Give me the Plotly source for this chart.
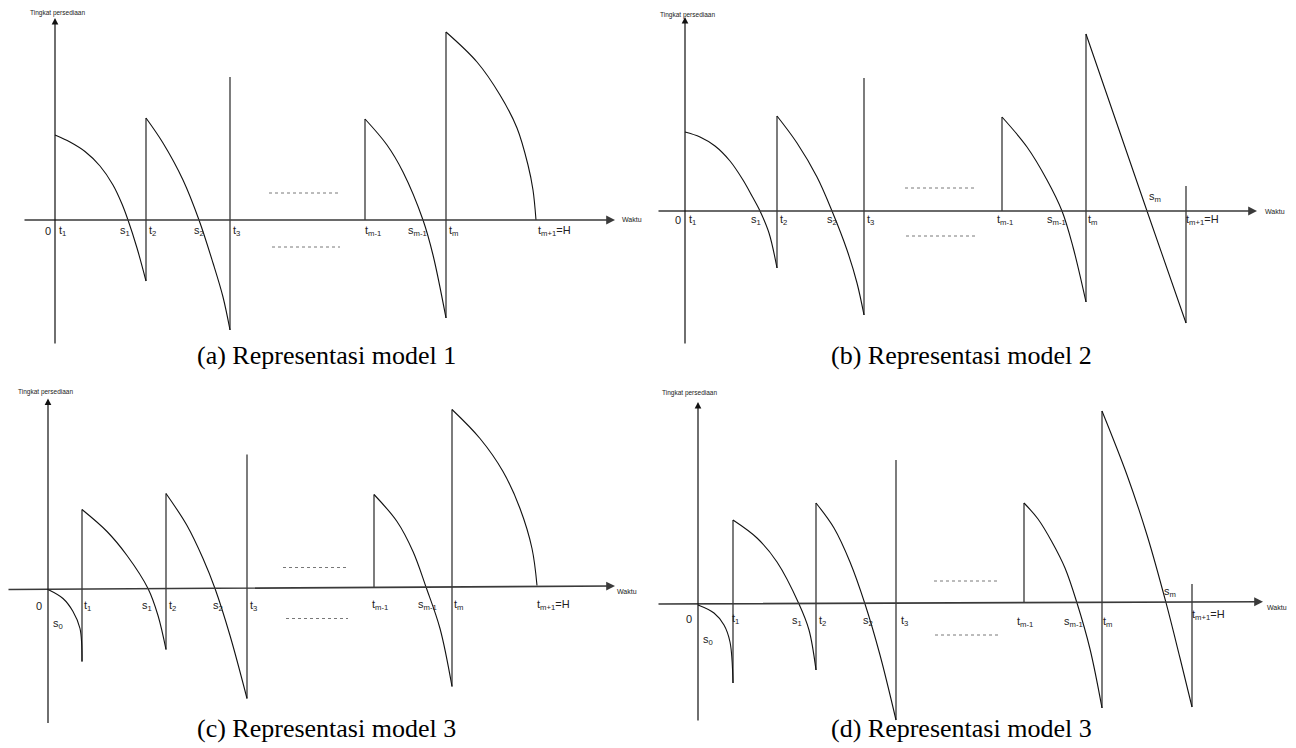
"""
Inventory level diagrams for four model representations, drawn with Plotly
"""

import plotly.graph_objects as go

# Each panel uses its own (time, inventory level) units: 0 is where the axes cross.

# ---- panel (a): model 1
a_curves = [
    [(0, 85), (15, 78), (30, 68.5), (45, 54), (58, 35), (67, 16), (73, 0), (82, -28), (91, -61)],
    [(91, 102), (108, 77), (128, 40), (144, 0), (158, -43), (168, -77), (175, -110)],
    [(310, 101), (332, 75), (348, 48), (368, 0), (378, -35), (391, -98)],
    [(391, 188), (422, 158), (445, 125), (462, 92), (473, 55), (478, 30), (481, 0)],
]
a_jumps = [(91, -61, 102), (175, -110, 143), (310, 0, 101), (391, -98, 188)]
a_dots = [(214, 283, 27), (217, 285, -27)]
a_time_axis = [(-32, 0), (560, 0)]
a_level_axis = [(0, -125), (0, 202)]
a_labels = [
    ("0", -7, -11), ("t<sub>1</sub>", 7, -11), ("s<sub>1</sub>", 70, -11),
    ("t<sub>2</sub>", 97, -11), ("s<sub>2</sub>", 144, -11), ("t<sub>3</sub>", 181, -11),
    ("t<sub>m-1</sub>", 318, -11), ("s<sub>m-1</sub>", 362, -11),
    ("t<sub>m</sub>", 398, -11), ("t<sub>m+1</sub>=H", 499, -11),
]
a_ylabel_pos = (2, 207)
a_xlabel_pos = (577, 1)

# ---- panel (b): model 2
b_curves = [
    [(0, 79), (15, 74), (30, 65), (45, 50), (58, 31), (67, 15), (75, 0), (84, -22), (92, -57)],
    [(92, 95), (112, 68), (132, 34), (147, 0), (162, -39), (172, -72), (179, -104)],
    [(317, 94), (342, 64), (362, 31), (377, 0), (388, -36), (401, -91)],
    [(401, 177), (462, 0), (501, -112)],
]
b_jumps = [(92, -57, 95), (179, -104, 133), (317, 0, 94), (401, -91, 177), (501, -112, 25)]
b_dots = [(220, 290, 23), (221, 291, -25)]
b_time_axis = [(-28, 0), (572, 0)]
b_level_axis = [(0, -134), (0, 194)]
b_labels = [
    ("0", -7, -9), ("t<sub>1</sub>", 7, -9), ("s<sub>1</sub>", 71, -9),
    ("t<sub>2</sub>", 98, -9), ("s<sub>2</sub>", 147, -9), ("t<sub>3</sub>", 185, -9),
    ("t<sub>m-1</sub>", 320, -9), ("s<sub>m-1</sub>", 371, -9),
    ("t<sub>m</sub>", 407, -9), ("s<sub>m</sub>", 470, 14), ("t<sub>m+1</sub>=H", 517, -9),
]
b_ylabel_pos = (2, 196)
b_xlabel_pos = (590, 0)

# ---- panel (c): model 3
c_curves = [
    [(0, 0), (15, -9), (25, -22), (32, -39), (34, -72)],
    [(34, 80), (59, 58), (79, 34), (100, 1), (110, -26), (118, -60)],
    [(118, 96), (139, 64), (155, 31), (167, 1), (182, -46), (199, -109)],
    [(326, 95), (349, 68), (365, 38), (378, 2.5), (392, -39), (404, -97)],
    [(404, 180), (432, 151), (455, 118), (472, 81), (484, 41), (489, 4)],
]
c_jumps = [(34, -72, 80), (118, -60, 96), (199, -109, 135), (326, 2, 95), (404, -97, 180)]
c_dots = [(235, 300, 22), (238, 300, -29)]
c_time_axis = [(-41, 0), (567, 3.5)]
c_level_axis = [(0, -135), (0, 191)]
c_labels = [
    ("0", -9, -16), ("t<sub>1</sub>", 39, -16), ("s<sub>0</sub>", 10, -34),
    ("s<sub>1</sub>", 99, -16), ("t<sub>2</sub>", 124, -16), ("s<sub>2</sub>", 170, -16),
    ("t<sub>3</sub>", 205, -16), ("t<sub>m-1</sub>", 332, -15), ("s<sub>m-1</sub>", 379, -15),
    ("t<sub>m</sub>", 410, -15), ("t<sub>m+1</sub>=H", 505, -15),
]
c_ylabel_pos = (-3, 198)
c_xlabel_pos = (579, -2)

# ---- panel (d): model 3 (linear last cycle)
d_curves = [
    [(0, -1), (16, -9), (26, -21), (32, -38), (35, -79)],
    [(35, 84), (59, 66), (79, 42), (101, 0), (111, -26), (118, -66)],
    [(118, 101), (136, 76), (152, 42), (167, 0), (182, -51), (198, -116)],
    [(326, 101), (340, 85), (354, 62), (367, 36), (379, 1), (392, -45), (404, -104)],
    [(404, 193), (429, 129), (449, 69), (468, 1.3), (482, -54), (494, -103)],
]
d_jumps = [(35, -79, 84), (118, -66, 101), (198, -116, 144), (326, 1.3, 101),
           (404, -104, 193), (494, -103, 20)]
d_dots = [(236, 301, 23), (237, 302, -31)]
d_time_axis = [(-41, 0), (565, 2.3)]
d_level_axis = [(0, -118), (0, 202)]
d_labels = [
    ("0", -9, -15), ("t<sub>1</sub>", 37, -15), ("s<sub>0</sub>", 10, -36),
    ("s<sub>1</sub>", 99, -17), ("t<sub>2</sub>", 124, -17), ("s<sub>2</sub>", 170, -17),
    ("t<sub>3</sub>", 206, -17), ("t<sub>m-1</sub>", 327, -18), ("s<sub>m-1</sub>", 375, -18),
    ("t<sub>m</sub>", 409, -18), ("s<sub>m</sub>", 472, 12), ("t<sub>m+1</sub>=H", 510, -11),
]
d_ylabel_pos = (-9, 211)
d_xlabel_pos = (579, -3)

captions = [
    "(a) Representasi model 1",
    "(b) Representasi model 2",
    "(c) Representasi model 3",
    "(d) Representasi model 3",
]

SANS = "Liberation Sans, Arial, sans-serif"
SERIF = "Liberation Serif, Times New Roman, serif"
INK = "#111111"
AXIS = "#3a3a3a"

# page body keeps an 8px margin, so the plot area is offset by 8px
W, H, OFF = 1288, 740, 8

# panel boxes on the page (left, right, top, bottom) and where their axes cross
boxes = [(8, 648, 8, 374), (648, 1296, 8, 374), (8, 648, 374, 748), (648, 1296, 374, 748)]
origins = [(55, 220), (685, 211), (48, 589.5), (698, 604)]
cap_pos = [(326, 355), (961, 355), (326, 728), (961, 728)]


def draw_panel(fig, idx, curves, jumps, dots, time_axis, level_axis,
               labels, ylabel_pos, xlabel_pos):
    xr = "x" if idx == 1 else f"x{idx}"
    yr = "y" if idx == 1 else f"y{idx}"

    # depletion curves
    xs, ys = [], []
    for c in curves:
        xs += [p[0] for p in c] + [None]
        ys += [p[1] for p in c] + [None]
    fig.add_trace(go.Scatter(
        x=xs, y=ys, mode="lines", hoverinfo="skip", xaxis=xr, yaxis=yr,
        line=dict(color=INK, width=1.1, shape="spline", smoothing=1.0),
    ))

    # replenishment jumps
    jx, jy = [], []
    for t, lo, hi in jumps:
        jx += [t, t, None]
        jy += [lo, hi, None]
    fig.add_trace(go.Scatter(
        x=jx, y=jy, mode="lines", hoverinfo="skip", xaxis=xr, yaxis=yr,
        line=dict(color=INK, width=1.1),
    ))

    # "..." ellipsis lines
    dx, dy = [], []
    for x0, x1, lvl in dots:
        dx += [x0, x1, None]
        dy += [lvl, lvl, None]
    fig.add_trace(go.Scatter(
        x=dx, y=dy, mode="lines", hoverinfo="skip", xaxis=xr, yaxis=yr,
        line=dict(color="#555555", width=0.8, dash="dot"),
    ))

    # axes with arrowheads
    for (tail, tip), w, colr in [(time_axis, 1.6, AXIS), (level_axis, 1.2, INK)]:
        fig.add_annotation(
            xref=xr, yref=yr, axref=xr, ayref=yr,
            x=tip[0], y=tip[1], ax=tail[0], ay=tail[1],
            text="", showarrow=True, arrowhead=2, arrowsize=1.1,
            arrowwidth=w, arrowcolor=colr, standoff=0, startstandoff=0,
        )

    for txt, tx, ty in labels:
        fig.add_annotation(
            xref=xr, yref=yr, x=tx, y=ty, text=txt, showarrow=False,
            xanchor="center", yanchor="middle",
            font=dict(family=SANS, size=11, color="#222222"),
        )

    fig.add_annotation(
        xref=xr, yref=yr, x=ylabel_pos[0], y=ylabel_pos[1],
        text="Tingkat persediaan", showarrow=False,
        font=dict(family=SANS, size=6.5, color="#222222"),
    )
    fig.add_annotation(
        xref=xr, yref=yr, x=xlabel_pos[0], y=xlabel_pos[1],
        text="Waktu", showarrow=False,
        font=dict(family=SANS, size=7, color="#222222"),
    )


fig = go.Figure()

panels = [
    (a_curves, a_jumps, a_dots, a_time_axis, a_level_axis, a_labels, a_ylabel_pos, a_xlabel_pos),
    (b_curves, b_jumps, b_dots, b_time_axis, b_level_axis, b_labels, b_ylabel_pos, b_xlabel_pos),
    (c_curves, c_jumps, c_dots, c_time_axis, c_level_axis, c_labels, c_ylabel_pos, c_xlabel_pos),
    (d_curves, d_jumps, d_dots, d_time_axis, d_level_axis, d_labels, d_ylabel_pos, d_xlabel_pos),
]

axes = {}
for i, (panel, box, org) in enumerate(zip(panels, boxes, origins), start=1):
    draw_panel(fig, i, *panel)
    x0, x1, y0, y1 = box
    ox, oy = org
    sfx = "" if i == 1 else str(i)
    # 1 unit = 1 pixel in every panel
    axes[f"xaxis{sfx}"] = dict(
        domain=[(x0 - OFF) / W, (x1 - OFF) / W], range=[x0 - ox, x1 - ox],
        anchor=f"y{sfx}", visible=False, fixedrange=True,
    )
    axes[f"yaxis{sfx}"] = dict(
        domain=[1 - (y1 - OFF) / H, 1 - (y0 - OFF) / H], range=[oy - y1, oy - y0],
        anchor=f"x{sfx}", visible=False, fixedrange=True,
    )

for text, (cx, cy) in zip(captions, cap_pos):
    fig.add_annotation(
        xref="paper", yref="paper", x=(cx - OFF) / W, y=1 - (cy - OFF) / H,
        xanchor="center", yanchor="middle",
        text=text, showarrow=False,
        font=dict(family=SERIF, size=26, color="black"),
    )

fig.update_layout(
    width=W,
    height=H,
    margin=dict(l=0, r=0, t=0, b=0),
    paper_bgcolor="white",
    plot_bgcolor="white",
    showlegend=False,
    **axes,
)

fig.write_html("out.html")
